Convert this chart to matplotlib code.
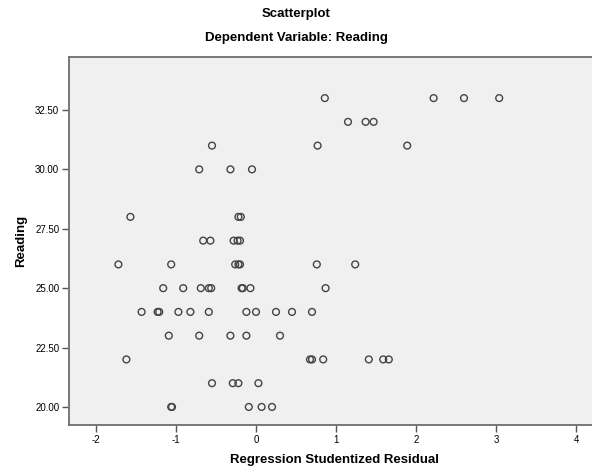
import matplotlib
matplotlib.use("Agg")
import matplotlib.pyplot as plt

plt.rcParams['font.family'] = ['Liberation Sans', 'DejaVu Sans']
plt.rcParams['axes.unicode_minus'] = False

# studentized residual (x) against Reading score (y), one list per score row
resid_33 = [0.86, 2.22, 2.60, 3.04]
resid_32 = [1.15, 1.37, 1.47]
resid_31 = [-0.55, 0.77, 1.89]
resid_30 = [-0.71, -0.32, -0.05]
resid_28 = [-1.57, -0.22, -0.19]
resid_27 = [-0.66, -0.57, -0.28, -0.23, -0.20]
resid_26 = [-1.72, -1.06, -0.26, -0.22, -0.20, 0.76, 1.24]
resid_25 = [-1.16, -0.91, -0.69, -0.59, -0.56, -0.18, -0.165, -0.07, 0.87]
resid_24 = [-1.43, -1.23, -1.21, -0.97, -0.82, -0.59, -0.12, 0.00, 0.25, 0.45, 0.70]
resid_23 = [-1.09, -0.71, -0.32, -0.12, 0.30]
resid_22 = [-1.62, 0.675, 0.70, 0.84, 1.41, 1.59, 1.66]
resid_21 = [-0.55, -0.29, -0.22, 0.03]
resid_20 = [-1.06, -1.05, -0.09, 0.07, 0.20]

rows = {33: resid_33, 32: resid_32, 31: resid_31, 30: resid_30, 28: resid_28,
        27: resid_27, 26: resid_26, 25: resid_25, 24: resid_24, 23: resid_23,
        22: resid_22, 21: resid_21, 20: resid_20}

x_ticks = [-2, -1, 0, 1, 2, 3, 4]
y_ticks = [20.0, 22.5, 25.0, 27.5, 30.0, 32.5]

xs, ys = [], []
for score, vals in rows.items():
    xs += vals
    ys += [score] * len(vals)

fig = plt.figure(figsize=(5.92, 4.71), dpi=100)
ax = fig.add_axes([69 / 592, 1 - 425 / 471, 531 / 592, 368 / 471])
ax.set_facecolor('#f0f0f0')

ax.scatter(xs, ys, s=24, facecolors='none', edgecolors='#444444', linewidths=1.0, zorder=3)

ax.set_xlim(-2.3375, 4.3)
ax.set_ylim(19.24, 34.73)
ax.set_xticks(x_ticks)
ax.set_yticks(y_ticks)
ax.set_yticklabels([f"{v:.2f}" for v in y_ticks])

for side in ['left', 'bottom', 'top']:
    ax.spines[side].set_color('#6e6e6e')
    ax.spines[side].set_linewidth(1.3)
ax.spines['right'].set_visible(False)
ax.tick_params(direction='out', length=5, width=1, color='#555555', labelsize=7, pad=2)

ax.set_xlabel("Regression Studentized Residual", fontsize=9.5, fontweight='bold', labelpad=7)
ax.set_ylabel("Reading", fontsize=9.5, fontweight='bold', labelpad=6)

fig.text(0.5, 1 - 14 / 471, "Scatterplot", ha='center', va='center', fontsize=9.5, fontweight='bold')
fig.text(0.5, 1 - 38 / 471, "Dependent Variable: Reading", ha='center', va='center',
         fontsize=9.5, fontweight='bold')

fig.savefig("out.png", dpi=100)
